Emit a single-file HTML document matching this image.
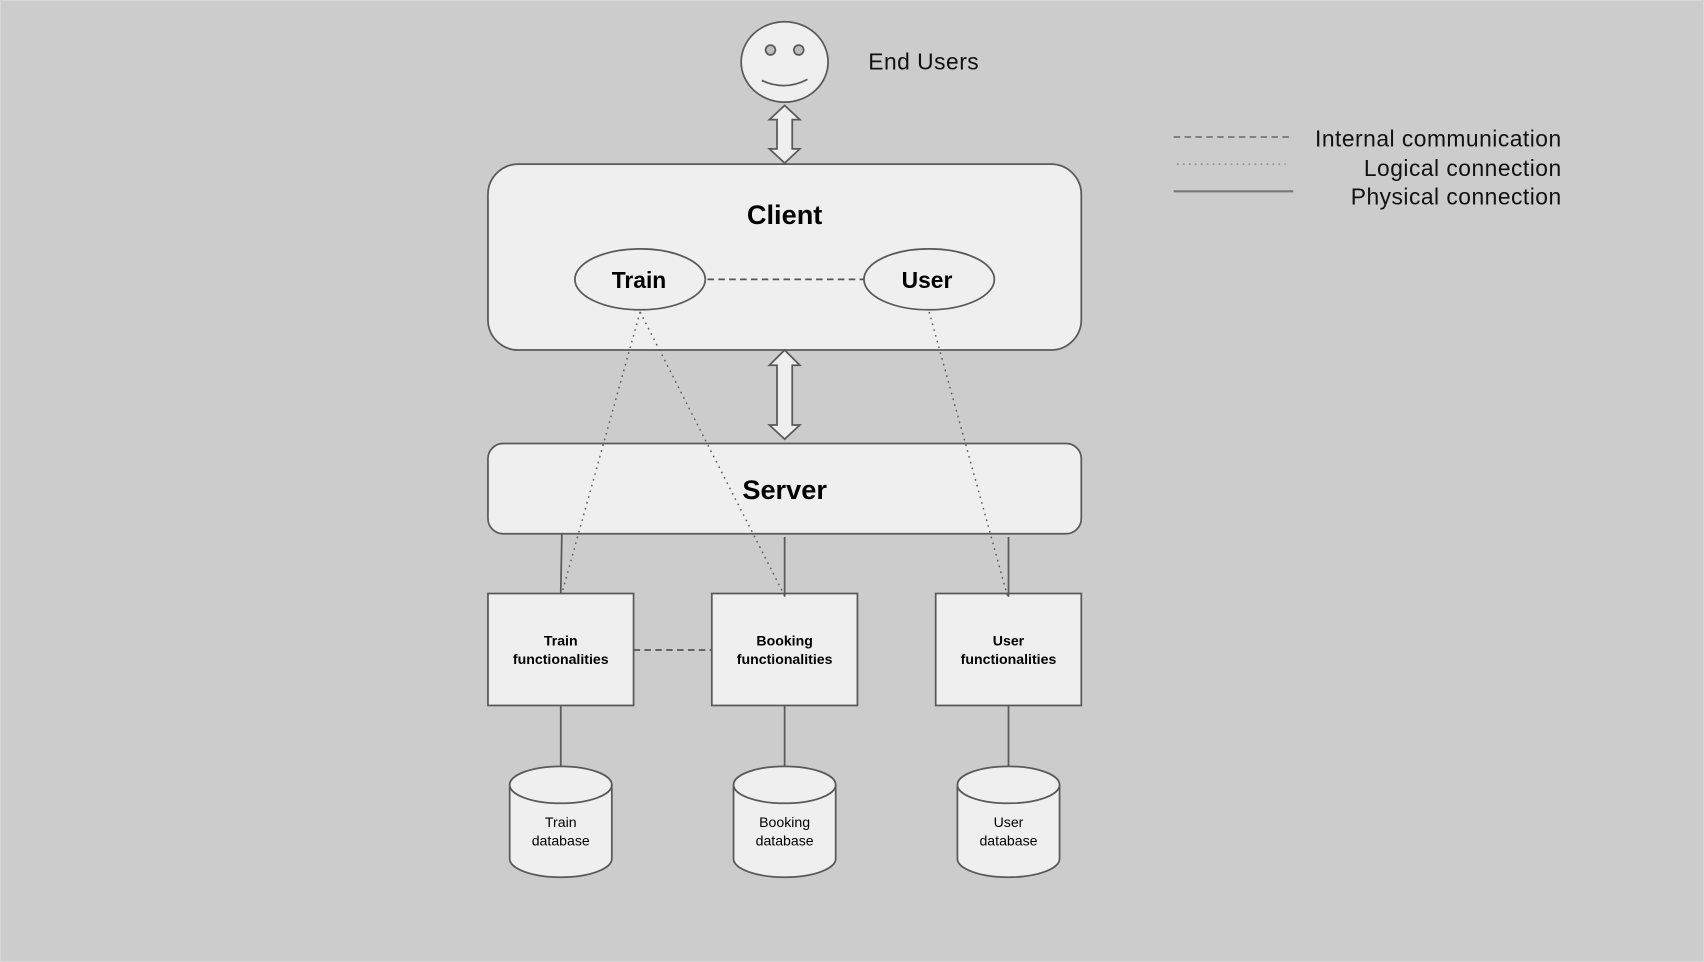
<!DOCTYPE html>
<html><head><meta charset="utf-8"><style>
html,body{margin:0;padding:0;background:#cccccc;}
svg{display:block;}
text{font-family:"Liberation Sans",sans-serif;}
</style></head><body>
<svg width="1704" height="962" viewBox="0 0 1568 885" preserveAspectRatio="none" xmlns="http://www.w3.org/2000/svg">
<rect x="0" y="0" width="1568" height="885" fill="#cccccc"/>
<rect x="0.5" y="0.5" width="1567" height="884" fill="none" stroke="#d8d8d8" stroke-width="1"/>
<g stroke="#595959" stroke-width="1.6" fill="#efefef">
<ellipse cx="722" cy="57" rx="40" ry="37"/>
<circle cx="709" cy="46" r="4.5" fill="#bdbdbd"/>
<circle cx="735" cy="46" r="4.5" fill="#bdbdbd"/>
<path d="M701 74 Q722 84 743 73" fill="none"/>
<path d="M722 97 L736 110 L729 110 L729 137 L736 137 L722 150 L708 137 L715 137 L715 110 L708 110 Z"/>
<rect x="449" y="151" width="546" height="171" rx="28"/>
<ellipse cx="589" cy="257" rx="60" ry="28"/>
<ellipse cx="855" cy="257" rx="60" ry="28"/>
<path d="M722 322 L736 336 L729 336 L729 391 L736 391 L722 404 L708 391 L715 391 L715 336 L708 336 Z"/>
<rect x="449" y="408" width="546" height="83" rx="14"/>
<rect x="449" y="546" width="134" height="103"/>
<rect x="655" y="546" width="134" height="103"/>
<rect x="861" y="546" width="134" height="103"/>
<line x1="517" y1="491" x2="516" y2="546" fill="none"/>
<line x1="722" y1="494" x2="722" y2="549" fill="none"/>
<line x1="928" y1="494" x2="928" y2="549" fill="none"/>
<line x1="516" y1="649" x2="516" y2="706" fill="none"/>
<line x1="722" y1="649" x2="722" y2="706" fill="none"/>
<line x1="928" y1="649" x2="928" y2="706" fill="none"/>
<path d="M469 722 L469 790 A47 17 0 0 0 563 790 L563 722"/>
<ellipse cx="516" cy="722" rx="47" ry="17"/>
<path d="M675 722 L675 790 A47 17 0 0 0 769 790 L769 722"/>
<ellipse cx="722" cy="722" rx="47" ry="17"/>
<path d="M881 722 L881 790 A47 17 0 0 0 975 790 L975 722"/>
<ellipse cx="928" cy="722" rx="47" ry="17"/>
</g>
<g fill="none" stroke="#555" stroke-width="1.6">
<line x1="651" y1="257" x2="795" y2="257" stroke-dasharray="6,4"/>
<line x1="583" y1="598" x2="655" y2="598" stroke-dasharray="6,4"/>
<line x1="1080" y1="126" x2="1187" y2="126" stroke-dasharray="6,4" stroke="#777"/>
<line x1="1080" y1="176" x2="1190" y2="176" stroke="#777" stroke-width="2"/>
</g>
<g fill="none" stroke="#555" stroke-width="1.3" stroke-dasharray="1.5,4">
<line x1="589" y1="287" x2="517" y2="546"/>
<line x1="589" y1="287" x2="722" y2="548"/>
<line x1="855" y1="287" x2="927" y2="548"/>
<line x1="1083" y1="151" x2="1183" y2="151" stroke="#888"/>
</g>
<g fill="#000" text-anchor="middle">
<text x="722" y="206" font-size="25" font-weight="bold">Client</text>
<text x="588" y="265" font-size="21" font-weight="bold">Train</text>
<text x="853" y="265" font-size="21" font-weight="bold">User</text>
<text x="722" y="459" font-size="25" font-weight="bold">Server</text>
<g font-size="13" font-weight="bold">
<text x="516" y="594">Train</text><text x="516" y="611">functionalities</text>
<text x="722" y="594">Booking</text><text x="722" y="611">functionalities</text>
<text x="928" y="594">User</text><text x="928" y="611">functionalities</text>
</g>
<g font-size="13">
<text x="516" y="761">Train</text><text x="516" y="778">database</text>
<text x="722" y="761">Booking</text><text x="722" y="778">database</text>
<text x="928" y="761">User</text><text x="928" y="778">database</text>
</g>
</g>
<g fill="#111" font-size="21" letter-spacing="0.45">
<text x="799" y="64">End Users</text>
<text x="1437" y="135" text-anchor="end">Internal communication</text>
<text x="1437" y="162" text-anchor="end">Logical connection</text>
<text x="1437" y="188" text-anchor="end">Physical connection</text>
</g>
</svg>
</body></html>
